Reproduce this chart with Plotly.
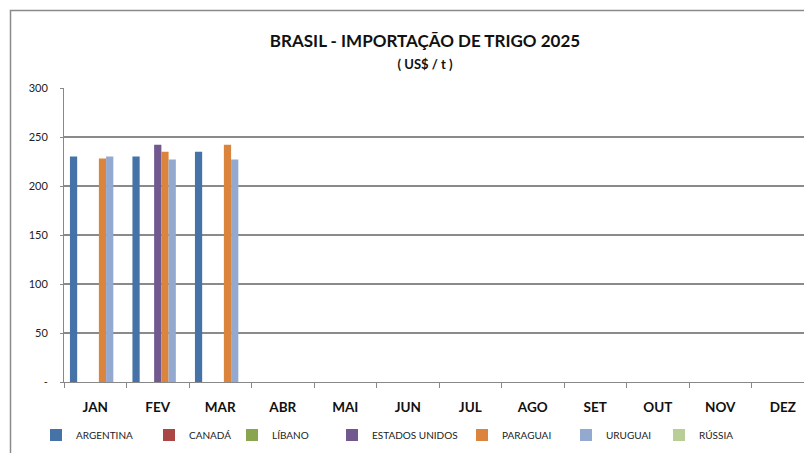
import plotly.graph_objects as go

months = ["JAN", "FEV", "MAR", "ABR", "MAI", "JUN", "JUL", "AGO", "SET", "OUT", "NOV", "DEZ"]
argentina = [230, 230, 235, None, None, None, None, None, None, None, None, None]
canada = [None] * 12
libano = [None] * 12
estados_unidos = [None, 242, None, None, None, None, None, None, None, None, None, None]
paraguai = [228, 235, 242, None, None, None, None, None, None, None, None, None]
uruguai = [230, 227, 227, None, None, None, None, None, None, None, None, None]
russia = [None] * 12

series = [
    ("ARGENTINA", argentina, "#4572A7"),
    ("CANADÁ", canada, "#AA4643"),
    ("LÍBANO", libano, "#89A54E"),
    ("ESTADOS UNIDOS", estados_unidos, "#71588F"),
    ("PARAGUAI", paraguai, "#DB843D"),
    ("URUGUAI", uruguai, "#93A9CF"),
    ("RÚSSIA", russia, "#B9CD96"),
]

y_ticks = [0, 50, 100, 150, 200, 250, 300]
y_ticktext = ["-", "50", "100", "150", "200", "250", "300"]

FONT = "Lato, 'Open Sans', sans-serif"

# page body has an 8px margin; layout values are in figure coordinates
OFF = 8
W, H = 812, 453
L, R, T, B = 64 - OFF, 6, 88 - OFF, H - (382 - OFF)
PW = W - L - R
PH = H - T - B

# screen x where each legend label text begins in the reference
legend_text_x = [74, 187, 270, 370, 500, 604, 697]

fig = go.Figure()
for i, (name, vals, color) in enumerate(series):
    lg = "legend" if i == 0 else f"legend{i + 1}"
    fig.add_trace(go.Bar(x=months, y=vals, name=name, legend=lg,
                         marker=dict(color=color, line=dict(width=0))))

legend_y = (382 - 435) / PH
layout_legends = {}
for i, tx in enumerate(legend_text_x):
    key = "legend" if i == 0 else f"legend{i + 1}"
    figx = tx - OFF - 38
    layout_legends[key] = dict(
        orientation="h", x=(figx - L) / PW, xanchor="left", y=legend_y, yanchor="middle",
        font=dict(family=FONT, size=10, color="#222"), itemwidth=30,
        bgcolor="rgba(0,0,0,0)", borderwidth=0,
    )

fig.update_layout(
    width=W, height=H,
    margin=dict(l=L, r=R, t=T, b=B),
    paper_bgcolor="white", plot_bgcolor="white",
    barmode="group", bargap=0.19, bargroupgap=0,
    font=dict(family=FONT, size=10, color="#222"),
    title=dict(
        text="<b>BRASIL - IMPORTAÇÃO DE TRIGO 2025</b><br><span style='font-size:13px'><b>( US$ / t )</b></span>",
        x=(425 - OFF) / W, xanchor="center", y=1 - (47 - OFF) / H, yanchor="middle",
        font=dict(family=FONT, size=17, color="#111"),
    ),
    showlegend=True,
    xaxis=dict(
        type="category", showline=True, linecolor="#888", linewidth=1,
        ticks="outside", tickson="boundaries", ticklen=5, tickcolor="#888",
        tickfont=dict(family=FONT, size=13.5, color="#111", weight="bold"),
        ticklabelstandoff=13, showgrid=False,
    ),
    yaxis=dict(
        range=[0, 300], tickvals=y_ticks, ticktext=y_ticktext,
        showline=True, linecolor="#888", linewidth=1,
        ticks="outside", ticklen=3, tickcolor="#888",
        showgrid=True, gridcolor="#8a8a8a", gridwidth=1.6,
        tickfont=dict(family=FONT, size=11, color="#222"),
        ticklabelstandoff=10, zeroline=False,
    ),
    **layout_legends,
)

fig.add_shape(
    type="rect", xref="paper", yref="paper",
    x0=(10.5 - OFF - L) / PW, x1=1.1, y0=-0.6, y1=(382 - 10.5) / PH,
    line=dict(color="#8a8a8a", width=1.5), fillcolor="rgba(0,0,0,0)", layer="below",
)

fig.write_html("out.html")
